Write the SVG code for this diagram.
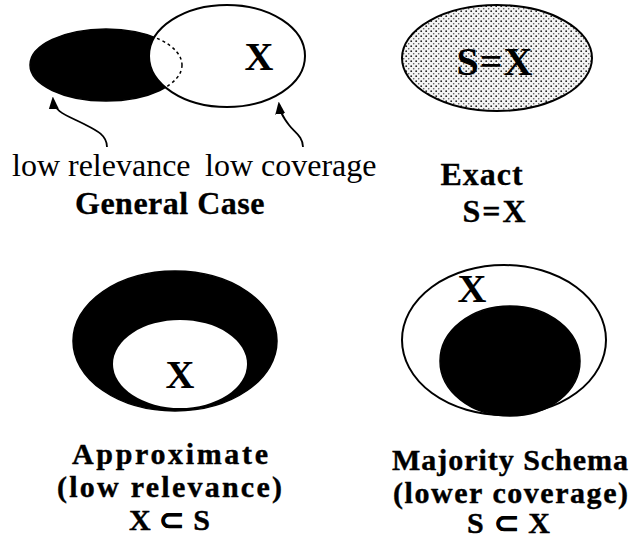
<svg xmlns="http://www.w3.org/2000/svg" width="632" height="539" viewBox="0 0 632 539">
<defs>
<style>
.lbl{font-family:"Liberation Serif","Times New Roman",serif;font-size:32px;fill:#000}
.b{font-weight:bold}
.hd{font-family:"Liberation Serif","Times New Roman",serif;font-size:32px;font-weight:bold;fill:#000;stroke:#000;stroke-width:0.3}
.st{font-family:"Liberation Serif","Times New Roman",serif;font-size:30px;font-weight:bold;fill:#000;stroke:#000;stroke-width:0.4}
.big{font-family:"Liberation Serif","Times New Roman",serif;font-size:40px;font-weight:bold;fill:#000}
.ol{fill:#fff;stroke:#000;stroke-width:2}
.blk{fill:#000;stroke:#000;stroke-width:1.5}
.conn{fill:none;stroke:#000;stroke-width:1.8}
</style>
<pattern id="dots" width="5" height="5" patternUnits="userSpaceOnUse">
<rect width="5" height="5" fill="#f4f4f4"/>
<circle cx="1.2" cy="1.2" r="0.9" fill="#222"/>
<circle cx="3.7" cy="3.7" r="0.8" fill="#555"/>
</pattern>
<clipPath id="clipX"><ellipse cx="227" cy="56" rx="78" ry="51"/></clipPath>
<marker id="ah" viewBox="0 0 10 10" refX="8" refY="5" markerWidth="7" markerHeight="7" orient="auto-start-reverse">
<path d="M0,1 L10,5 L0,9 Z" fill="#000"/>
</marker>
</defs>

<g id="general-case">
<ellipse class="blk" cx="106" cy="65" rx="76" ry="36"/>
<ellipse class="ol" cx="227" cy="56" rx="78" ry="51"/>
<ellipse cx="106" cy="65" rx="76" ry="36" fill="none" stroke="#000" stroke-width="1.5" stroke-dasharray="3,3" clip-path="url(#clipX)"/>
<text class="big" x="259" y="70" text-anchor="middle">X</text>
<text class="lbl" x="12" y="176">low relevance</text>
<text class="lbl" x="205" y="176">low coverage</text>
<text class="hd" x="170" y="214" text-anchor="middle" letter-spacing="0.5">General Case</text>
</g>

<g id="exact">
<ellipse cx="497" cy="58" rx="95" ry="53" fill="url(#dots)" stroke="#000" stroke-width="2"/>
<text class="big" x="495" y="75" text-anchor="middle" letter-spacing="1">S=X</text>
<text class="hd" x="482" y="185" text-anchor="middle" letter-spacing="1">Exact</text>
<text class="hd" x="495" y="222" text-anchor="middle" letter-spacing="2">S=X</text>
</g>

<g id="approximate">
<ellipse class="blk" cx="175" cy="341" rx="102" ry="70"/>
<ellipse cx="180" cy="364" rx="67" ry="44" fill="#fff"/>
<text class="big" x="180" y="388" text-anchor="middle">X</text>
<text class="st" x="72" y="464" textLength="196">Approximate</text>
<text class="st" x="57" y="497" textLength="225">(low relevance)</text>
<text class="st" x="129" y="530" textLength="81">X ⊂ S</text>
</g>

<g id="majority-schema">
<ellipse class="ol" cx="504" cy="340" rx="102" ry="75"/>
<ellipse class="blk" cx="510" cy="361" rx="70" ry="55"/>
<text class="big" x="472" y="302" text-anchor="middle">X</text>
<text class="st" x="392" y="470" textLength="236">Majority Schema</text>
<text class="st" x="393" y="503" textLength="235">(lower coverage)</text>
<text class="st" x="467" y="533" textLength="83">S ⊂ X</text>
</g>

<g id="connectors">
<path class="conn" d="M107,147 C107,135 96,130 84,124 C66,115 54,112 53,99" marker-end="url(#ah)"/>
<path class="conn" d="M303,147 C303,136 294,132 289,125 C283,117 280,112 279,104" marker-end="url(#ah)"/>
</g>
</svg>
